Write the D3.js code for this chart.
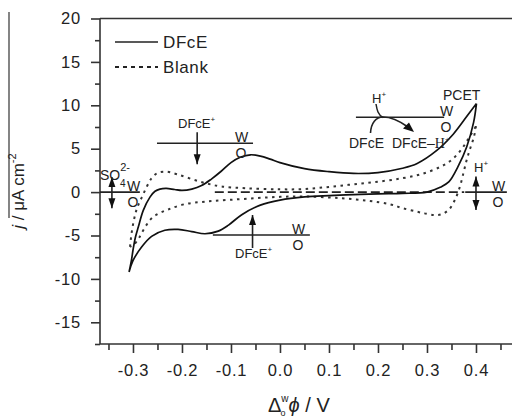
<!DOCTYPE html>
<html>
<head>
<meta charset="utf-8">
<script src="https://cdn.jsdelivr.net/npm/d3@7"></script>
<style>
  body { margin: 0; background: #fff; }
  text { font-family: "Liberation Sans", Arial, sans-serif; fill: #222; }
</style>
</head>
<body>
<div id="chart"></div>
<script>
// potential (V) and current density (uA cm-2)
const xTicks = [-0.3, -0.2, -0.1, 0.0, 0.1, 0.2, 0.3, 0.4];
const yTicks = [-15, -10, -5, 0, 5, 10, 15, 20];

const dfceForward = [
  [-0.308, -9.2], [-0.303, -7.8], [-0.300, -6.7], [-0.295, -5.2], [-0.289, -4.0],
  [-0.279, -2.1], [-0.265, -0.55], [-0.255, 0.1], [-0.245, 0.35], [-0.232, 0.42],
  [-0.215, 0.3], [-0.200, 0.2], [-0.180, 0.35], [-0.160, 0.75], [-0.140, 1.5],
  [-0.120, 2.4], [-0.100, 3.4], [-0.080, 4.05], [-0.060, 4.3], [-0.040, 4.15],
  [-0.020, 3.8], [0.000, 3.4], [0.050, 2.7], [0.100, 2.35], [0.150, 2.15],
  [0.200, 2.25], [0.250, 2.75], [0.280, 3.3], [0.320, 4.8], [0.354, 6.7],
  [0.381, 8.7], [0.401, 10.2]
];
const dfceReverse = [
  [0.401, 10.2], [0.395, 8.0], [0.381, 5.2], [0.363, 2.9], [0.345, 1.2],
  [0.327, 0.55], [0.300, 0.0], [0.250, -0.15], [0.200, -0.2], [0.150, -0.3],
  [0.100, -0.4], [0.050, -0.55], [0.000, -0.92], [-0.040, -1.5], [-0.078, -2.6],
  [-0.105, -3.8], [-0.126, -4.5], [-0.153, -4.8], [-0.180, -4.55], [-0.208, -4.3],
  [-0.235, -4.4], [-0.262, -5.1], [-0.282, -6.3], [-0.300, -7.9], [-0.308, -9.2]
];
const blankForward = [
  [-0.306, -6.3], [-0.303, -4.8], [-0.298, -3.2], [-0.292, -1.9], [-0.282, -0.6],
  [-0.272, 0.6], [-0.262, 1.6], [-0.250, 2.2], [-0.232, 2.35], [-0.210, 2.05],
  [-0.180, 1.5], [-0.150, 1.0], [-0.120, 0.65], [-0.070, 0.45], [0.000, 0.32],
  [0.050, 0.35], [0.100, 0.6], [0.150, 0.9], [0.200, 1.2], [0.250, 1.6],
  [0.290, 2.1], [0.327, 2.9], [0.350, 3.7], [0.370, 4.9], [0.385, 6.2], [0.400, 7.6]
];
const blankReverse = [
  [0.400, 7.6], [0.396, 6.4], [0.388, 5.0], [0.381, 3.7], [0.374, 2.1],
  [0.367, 0.6], [0.357, -0.9], [0.345, -2.0], [0.330, -2.55], [0.315, -2.65],
  [0.295, -2.45], [0.279, -2.25], [0.250, -1.85], [0.224, -1.4], [0.180, -1.0],
  [0.122, -0.7], [0.050, -0.5], [0.000, -0.55], [-0.050, -0.7], [-0.105, -0.9],
  [-0.153, -1.1], [-0.195, -1.4], [-0.228, -2.0], [-0.252, -2.6], [-0.265, -3.2],
  [-0.279, -4.4], [-0.289, -5.4], [-0.299, -6.1], [-0.306, -6.3]
];

const seriesNames = ["DFcE", "Blank"];

const width = 512, height = 417;
const svg = d3.select("#chart").append("svg")
  .attr("width", width)
  .attr("height", height);

const x = d3.scaleLinear().domain([-0.3673, 0.4735]).range([100, 512]);
const y = d3.scaleLinear().domain([-17.5, 20]).range([344, 18.5]);

// plain hyphen minus like the original
const fmtY = d => d3.format("d")(d).replace("\u2212", "-");
const fmtX = d => d3.format(".1f")(d).replace("\u2212", "-");

// stray rule at far left of the scan
svg.append("line")
  .attr("x1", 9).attr("x2", 9).attr("y1", 12).attr("y2", 218)
  .attr("stroke", "#333").attr("stroke-width", 1.2);

// axes
const yAxis = svg.append("g")
  .attr("transform", "translate(100,0)")
  .call(d3.axisLeft(y).tickValues(yTicks).tickSize(9).tickPadding(10).tickFormat(fmtY));
const yMinor = svg.append("g")
  .attr("transform", "translate(100,0)")
  .call(d3.axisLeft(y).tickValues(d3.range(-17.5, 20, 5)).tickSize(5).tickFormat(""));

const xAxis = svg.append("g")
  .attr("transform", "translate(0,344)")
  .call(d3.axisBottom(x).tickValues(xTicks).tickSize(9).tickPadding(11).tickFormat(fmtX));
const xMinor = svg.append("g")
  .attr("transform", "translate(0,344)")
  .call(d3.axisBottom(x).tickValues(d3.range(-0.35, 0.46, 0.1)).tickSize(6).tickFormat(""));

[yAxis, yMinor, xAxis, xMinor].forEach(a => {
  a.select(".domain").attr("stroke", "#333").attr("stroke-width", 1.6);
  a.selectAll(".tick line").attr("stroke", "#333").attr("stroke-width", 1.6);
  a.selectAll("text").attr("font-size", 16.5).attr("fill", "#222")
    .attr("font-family", "Liberation Sans, Arial, sans-serif")
    .style("letter-spacing", "0.8px");
});
xAxis.select(".domain").attr("d", "M100,0H512");
yAxis.select(".domain").attr("d", "M0,18.5V344");
xMinor.select(".domain").remove();
yMinor.select(".domain").remove();

// top frame line
svg.append("line")
  .attr("x1", 100).attr("x2", 512).attr("y1", 18.5).attr("y2", 18.5)
  .attr("stroke", "#333").attr("stroke-width", 1.6);

// curves
const line = d3.line()
  .x(d => x(d[0]))
  .y(d => y(d[1]))
  .curve(d3.curveCatmullRom.alpha(0.5));

// zero reference
svg.append("line")
  .attr("x1", x(-0.133)).attr("x2", x(0.376))
  .attr("y1", y(0)).attr("y2", y(0))
  .attr("stroke", "#222").attr("stroke-width", 1.6)
  .attr("stroke-dasharray", "9,4");

svg.append("path")
  .attr("d", line(blankForward) + line(blankReverse))
  .attr("fill", "none").attr("stroke", "#333")
  .attr("stroke-width", 2).attr("stroke-dasharray", "2.5,4.5");

svg.append("path")
  .attr("d", line(dfceForward) + line(dfceReverse))
  .attr("fill", "none").attr("stroke", "#111")
  .attr("stroke-width", 1.7);

// legend
const legend = svg.append("g");
seriesNames.forEach((name, i) => {
  const ly = 42 + i * 25;
  legend.append("line")
    .attr("x1", 115).attr("x2", 158).attr("y1", ly).attr("y2", ly)
    .attr("stroke", "#222").attr("stroke-width", i ? 2 : 1.7)
    .attr("stroke-dasharray", i ? "4,4" : null);
  legend.append("text")
    .attr("x", 163).attr("y", ly + 6)
    .attr("font-size", 17).style("letter-spacing", "0.6px")
    .text(name);
});

// annotation helpers
function hline(x1, x2, yy) {
  svg.append("line").attr("x1", x1).attr("x2", x2).attr("y1", yy).attr("y2", yy)
    .attr("stroke", "#222").attr("stroke-width", 1.6);
}
function arrowHead(tx, ty, dir) {
  // dir: 1 pointing down, -1 pointing up
  svg.append("path")
    .attr("d", `M${tx},${ty}L${tx - 3.5},${ty - dir * 10}L${tx + 3.5},${ty - dir * 10}Z`)
    .attr("fill", "#111");
}
function vArrow(ax, y1, y2, both) {
  svg.append("line").attr("x1", ax).attr("x2", ax).attr("y1", y1).attr("y2", y2)
    .attr("stroke", "#222").attr("stroke-width", 1.6);
  arrowHead(ax, y2, y2 > y1 ? 1 : -1);
  if (both) arrowHead(ax, y1, y1 > y2 ? 1 : -1);
}
function label(tx, ty, str, size, anchor) {
  return svg.append("text").attr("x", tx).attr("y", ty)
    .attr("font-size", size || 14).attr("text-anchor", anchor || "start").text(str);
}
function wo(tx, ty) {
  label(tx, ty - 1, "W", 14);
  label(tx + 0.5, ty + 15, "O", 14);
}

// SO4 2- at left
hline(x(-0.3673), x(-0.286), y(0));
vArrow(x(-0.343), y(1.75), y(-1.85), true);
const so4 = label(100, 180, "SO", 14);
so4.append("tspan").attr("font-size", 11).attr("dy", -9).text("2-");
svg.append("text").attr("x", 120).attr("y", 187).attr("font-size", 10).text("4");
wo(127, y(0));

// DFcE+ top
const yTop = y(5.63);
hline(x(-0.251), x(-0.055), yTop);
vArrow(x(-0.169), yTop - 11, yTop + 21, false);
const dt = label(178, 128, "DFcE", 13);
dt.append("tspan").attr("font-size", 8).attr("dy", -6).text("+");
wo(235, yTop);

// DFcE+ bottom
const yBot = y(-4.94);
hline(x(-0.137), x(0.061), yBot);
vArrow(x(-0.056), yBot + 13, yBot - 20, false);
const db = label(235, 258, "DFcE", 13);
db.append("tspan").attr("font-size", 8).attr("dy", -6).text("+");
wo(292, yBot);

// PCET
const yP = y(8.62);
hline(x(0.155), x(0.335), yP);
svg.append("path")
  .attr("d", `M370.5,133 C371,123 376,117 383,117 C392,117 401,122 408,127`)
  .attr("fill", "none").attr("stroke", "#222").attr("stroke-width", 1.6);
svg.append("path").attr("d", "M414,132 L403,128.5 L409,122.5 Z").attr("fill", "#111");
svg.append("path")
  .attr("d", "M376,104 C377,110 378,115 383,117.5")
  .attr("fill", "none").attr("stroke", "#222").attr("stroke-width", 1.5);
const hp = svg.append("text").attr("x", 372).attr("y", 103)
  .attr("font-family", "Liberation Serif, serif").attr("font-size", 13).text("H");
hp.append("tspan").attr("font-size", 8).attr("dy", -6).text("+");
label(349, 148, "DFcE", 14);
const dh = label(392, 148, "DFcE\u2013", 14);
dh.append("tspan").attr("font-family", "Liberation Serif, serif").text("H");
dh.append("tspan").attr("font-family", "Liberation Serif, serif").attr("font-size", 8).attr("dy", -6).text("+");
wo(440, yP);
label(443, 100, "PCET", 14);

// H+ at right
hline(x(0.378), x(0.463), y(0));
vArrow(x(0.40), y(1.8), y(-2.05), true);
const hr = svg.append("text").attr("x", 474).attr("y", 172)
  .attr("font-family", "Liberation Serif, serif").attr("font-size", 13).text("H");
hr.append("tspan").attr("font-size", 8).attr("dy", -6).text("+");
wo(492, y(0));

// axis titles
const yt = svg.append("text")
  .attr("transform", "translate(24,191) rotate(-90)")
  .attr("text-anchor", "middle").attr("font-size", 17);
yt.append("tspan").attr("font-style", "italic").text("j");
yt.append("tspan").text(" / \u03bcA cm");
yt.append("tspan").attr("font-size", 11).attr("dy", -8).text("-2");

const xt = svg.append("text").attr("x", 268).attr("y", 412).attr("font-size", 20);
xt.append("tspan").text("\u0394");
xt.append("tspan").attr("font-size", 10).attr("dy", -10).text("w");
xt.append("tspan").attr("font-size", 9).attr("dx", -8).attr("dy", 14).text("o");
xt.append("tspan").attr("font-style", "italic").attr("dx", 3).attr("dy", -4).text("\u03d5");
xt.append("tspan").text(" / V");
</script>
</body>
</html>
